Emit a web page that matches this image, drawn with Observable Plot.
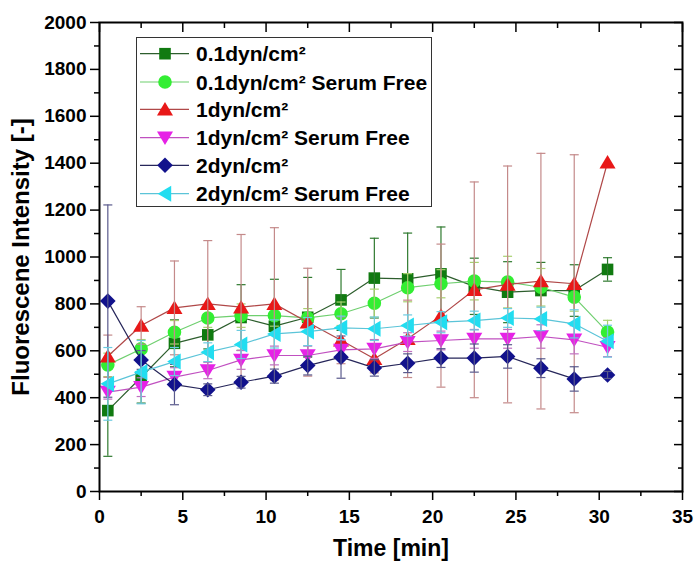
<!DOCTYPE html>
<html>
<head>
<meta charset="utf-8">
<script src="https://cdn.jsdelivr.net/npm/d3@7"></script>
<script src="https://cdn.jsdelivr.net/npm/@observablehq/plot@0.6"></script>
<style>
  html, body { margin: 0; padding: 0; background: #fff; }
  #wrap { position: relative; width: 694px; height: 567px; font-family: 'Liberation Sans', Arial, sans-serif; }
  #legend { position: absolute; left: 136px; top: 37px; width: 296px; height: 170px; border: 1px solid #333; background: #fff; box-sizing: border-box; }
</style>
</head>
<body>
<div id="wrap"><div id="legend"></div></div>
<script>
// ---- data ----
const times = [0.5, 2.5, 4.5, 6.5, 8.5, 10.5, 12.5, 14.5, 16.5, 18.5, 20.5, 22.5, 24.5, 26.5, 28.5, 30.5];

const names = ["0.1dyn/cm²", "0.1dyn/cm² Serum Free", "1dyn/cm²", "1dyn/cm² Serum Free", "2dyn/cm²", "2dyn/cm² Serum Free"];

const v01   = [345, 487, 632, 668, 742, 705, 743, 817, 910, 907, 928, 875, 850, 857, 857, 947];
const e01   = [195, 110, 100, 60, 140, 200, 170, 130, 170, 195, 200, 120, 130, 120, 110, 50];
const v01sf = [540, 608, 679, 740, 750, 750, 740, 758, 803, 869, 886, 897, 893, 871, 829, 680];
const e01sf = [50, 40, 50, 40, 50, 45, 40, 50, 60, 60, 60, 80, 110, 80, 60, 50];
const v1    = [577, 708, 783, 800, 786, 800, 722, 645, 566, 651, 750, 860, 883, 897, 886, 1404];
const e1    = [90, 80, 200, 270, 310, 325, 230, 100, 60, 165, 305, 460, 505, 545, 550, 0];
const v1sf  = [424, 445, 488, 516, 561, 580, 580, 604, 608, 637, 644, 651, 651, 661, 647, 615];
const e1sf  = [30, 40, 40, 35, 40, 40, 40, 40, 40, 40, 40, 40, 40, 50, 60, 40];
const v2    = [812, 561, 456, 434, 466, 492, 537, 573, 527, 547, 569, 569, 576, 526, 480, 497];
const e2    = [410, 40, 86, 25, 25, 30, 40, 90, 35, 40, 40, 60, 50, 40, 52, 15];
const v2sf  = [459, 509, 554, 594, 627, 672, 682, 698, 694, 708, 722, 729, 740, 736, 715, 641];
const e2sf  = [155, 135, 60, 40, 60, 60, 60, 50, 50, 45, 45, 40, 40, 50, 60, 68];

const xTicks = [0, 5, 10, 15, 20, 25, 30, 35];
const xMinor = [2.5, 7.5, 12.5, 17.5, 22.5, 27.5, 32.5];
const yTicks = [0, 200, 400, 600, 800, 1000, 1200, 1400, 1600, 1800, 2000];
const yMinor = [100, 300, 500, 700, 900, 1100, 1300, 1500, 1700, 1900];

// ---- symbols ----
const mk = fn => ({draw(ctx, size) { const r = Math.sqrt(size / Math.PI); fn(ctx, r); }});
const symSquare = mk((c, r) => { c.moveTo(-r, -r); c.lineTo(r, -r); c.lineTo(r, r); c.lineTo(-r, r); c.closePath(); });
const symCircle = mk((c, r) => { c.moveTo(r, 0); c.arc(0, 0, r, 0, 2 * Math.PI); });
const symUp = mk((c, r) => { c.moveTo(0, -r); c.lineTo(r * 1.1, r * 0.85); c.lineTo(-r * 1.1, r * 0.85); c.closePath(); });
const symDown = mk((c, r) => { c.moveTo(0, r); c.lineTo(r * 1.1, -r * 0.85); c.lineTo(-r * 1.1, -r * 0.85); c.closePath(); });
const symDiamond = mk((c, r) => { c.moveTo(0, -r); c.lineTo(r, 0); c.lineTo(0, r); c.lineTo(-r, 0); c.closePath(); });
const symLeft = mk((c, r) => { c.moveTo(-r, 0); c.lineTo(r * 0.85, -r * 1.1); c.lineTo(r * 0.85, r * 1.1); c.closePath(); });
const symCap = mk((c, r) => { c.moveTo(-r, 0); c.lineTo(r, 0); });

const series = [
  {name: names[0], v: v01,   e: e01,   sym: symSquare,  r: 5.8, fill: "#107a10", line: "#2d5e2d", err: "#2f7a2f"},
  {name: names[1], v: v01sf, e: e01sf, sym: symCircle,  r: 6.8, fill: "#33ee33", line: "#6fcf6f", err: "#a8d070"},
  {name: names[2], v: v1,    e: e1,    sym: symUp,      r: 7.3, fill: "#e81818", line: "#b04848", err: "#c48a8a"},
  {name: names[3], v: v1sf,  e: e1sf,  sym: symDown,    r: 7.3, fill: "#e622e6", line: "#c050c0", err: "#c070c0"},
  {name: names[4], v: v2,    e: e2,    sym: symDiamond, r: 7.8, fill: "#12128c", line: "#26265a", err: "#5a5a8c"},
  {name: names[5], v: v2sf,  e: e2sf,  sym: symLeft,   r: 7.3, fill: "#22ddf0", line: "#5bc4d8", err: "#6ccbe0"}
];

const marks = [];
for (const s of series) {
  const rows = times.map((t, i) => ({t, v: s.v[i], lo: s.v[i] - s.e[i], hi: s.v[i] + s.e[i], e: s.e[i]}));
  const withErr = rows.filter(d => d.e > 0);
  marks.push(Plot.line(rows, {x: "t", y: "v", stroke: s.line, strokeWidth: 1.2}));
  marks.push(Plot.dot(rows, {x: "t", y: "v", symbol: s.sym, r: s.r, fill: s.fill, stroke: "none"}));
  marks.push(Plot.ruleX(withErr, {x: "t", y1: "lo", y2: "hi", stroke: s.err, strokeWidth: 1.2}));
  marks.push(Plot.dot(withErr, {x: "t", y: "hi", symbol: symCap, r: 4.5, stroke: s.err, fill: "none", strokeWidth: 1.2}));
  marks.push(Plot.dot(withErr, {x: "t", y: "lo", symbol: symCap, r: 4.5, stroke: s.err, fill: "none", strokeWidth: 1.2}));
}

const fmt = d => String(d);
const blank = () => "";

const chart = Plot.plot({
  width: 694, height: 567,
  marginLeft: 99, marginRight: 12, marginTop: 22, marginBottom: 76,
  x: {domain: [0, 35]},
  y: {domain: [0, 2000]},
  style: {fontFamily: "'Liberation Sans', Arial, sans-serif", fontSize: "19px", fontWeight: "bold", color: "black", background: "white", overflow: "visible"},
  marks: [
    ...marks,
    Plot.frame({stroke: "black", strokeWidth: 2}),
    Plot.axisX({ticks: xTicks, tickSize: 9, tickPadding: 9, tickFormat: fmt, label: null, strokeWidth: 1.5}),
    Plot.axisX({ticks: xMinor, tickSize: 5, tickFormat: blank, label: null, strokeWidth: 1.5}),
    Plot.axisY({ticks: yTicks, tickSize: 9, tickPadding: 4, tickFormat: fmt, label: null, strokeWidth: 1.5}),
    Plot.axisY({ticks: yMinor, tickSize: 5, tickFormat: blank, label: null, strokeWidth: 1.5}),
    Plot.axisX({anchor: "top", ticks: xTicks, tickSize: -9, tickFormat: blank, label: null, strokeWidth: 1.5}),
    Plot.axisX({anchor: "top", ticks: xMinor, tickSize: -5, tickFormat: blank, label: null, strokeWidth: 1.5}),
    Plot.axisY({anchor: "right", ticks: yTicks, tickSize: -9, tickFormat: blank, label: null, strokeWidth: 1.5}),
    Plot.axisY({anchor: "right", ticks: yMinor, tickSize: -5, tickFormat: blank, label: null, strokeWidth: 1.5}),
    Plot.text(["Time [min]"], {frameAnchor: "bottom", dy: 64, fontSize: 23, fontWeight: "bold"}),
    Plot.text(["Fluorescene Intensity [-]"], {frameAnchor: "left", textAnchor: "middle", dx: -78, dy: 0, rotate: -90, fontSize: 24, fontWeight: "bold"})
  ]
});
document.getElementById("wrap").insertBefore(chart, document.getElementById("legend"));

// ---- legend ----
const lg = d3.select("#legend").append("svg").attr("width", 294).attr("height", 168);
const rowY = [15.7, 44, 71.3, 99.7, 127.3, 155.7];
series.forEach((s, i) => {
  const g = lg.append("g").attr("transform", `translate(0,${rowY[i]})`);
  g.append("line").attr("x1", 3).attr("x2", 52).attr("y1", 0).attr("y2", 0).attr("stroke", s.line).attr("stroke-width", 1.2);
  g.append("path").attr("transform", "translate(28,0)").attr("d", d3.symbol(s.sym, Math.PI * s.r * s.r)()).attr("fill", s.fill);
  g.append("text").attr("x", 59).attr("y", 0).attr("dy", "0.36em").attr("font-size", 21).attr("font-weight", "bold")
    .attr("font-family", "'Liberation Sans', Arial, sans-serif").text(s.name);
});
</script>
</body>
</html>
